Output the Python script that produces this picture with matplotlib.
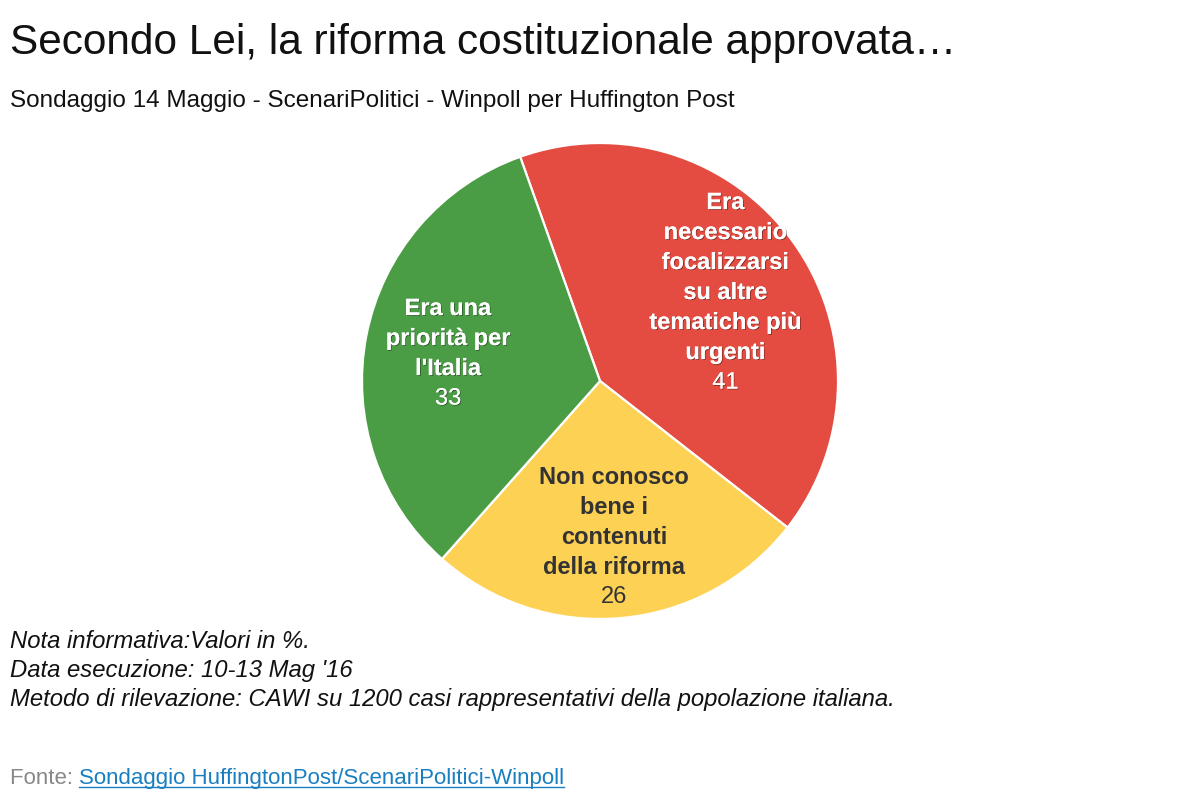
import matplotlib
matplotlib.use("Agg")
import matplotlib.pyplot as plt
import matplotlib.patheffects as pe
import numpy as np

plt.rcParams['font.family'] = ['Liberation Sans', 'DejaVu Sans']

# Data
categories = ["Era\nnecessario\nfocalizzarsi\nsu altre\ntematiche più\nurgenti",
              "Non conosco\nbene i\ncontenuti\ndella riforma",
              "Era una\npriorità per\nl'Italia"]
values = [41, 26, 33]
colors = ["#e44c41", "#fdd254", "#4a9d44"]
label_colors = ["white", "#333333", "white"]

title = "Secondo Lei, la riforma costituzionale approvata…"
subtitle = "Sondaggio 14 Maggio - ScenariPolitici - Winpoll per Huffington Post"
notes = ["Nota informativa:Valori in %.",
         "Data esecuzione: 10-13 Mag '16",
         "Metodo di rilevazione: CAWI su 1200 casi rappresentativi della popolazione italiana."]
source_label = "Fonte: "
source_link = "Sondaggio HuffingtonPost/ScenariPolitici-Winpoll"

W, H = 1200, 800
fig = plt.figure(figsize=(12, 8), dpi=100)
fig.patch.set_facecolor("white")

def fx(x): return x / W
def fy(y): return 1 - y / H

cx, cy, R = 600, 381, 238
ax = fig.add_axes([fx(cx - R), fy(cy + R), 2 * R / W, 2 * R / H])
wedges, _ = ax.pie(values, colors=colors, startangle=109.6, counterclock=False,
                   radius=1, wedgeprops=dict(edgecolor="white", linewidth=1.6))
ax.set_xlim(-1, 1)
ax.set_ylim(-1, 1)
ax.set_aspect("equal")
ax.axis("off")

line_step = 21.6  # points between lines
for w, cat, val, lc in zip(wedges, categories, values, label_colors):
    mid = np.deg2rad((w.theta1 + w.theta2) / 2)
    px, py = 0.65 * np.cos(mid), 0.65 * np.sin(mid)
    lines = cat.split("\n")
    n = len(lines) + 1
    effects = []
    if lc == "white":
        effects = [pe.withSimplePatchShadow(offset=(0.6, -0.6), shadow_rgbFace="black", alpha=0.45),
                   pe.Normal()]
    for i, ln in enumerate(lines):
        off = ((n - 1) / 2 - i) * line_step - 1.5
        ax.annotate(ln, (px, py), xytext=(0, off), textcoords="offset points",
                    ha="center", va="center", fontsize=17, fontweight="bold",
                    color=lc, path_effects=effects)
    off = ((n - 1) / 2 - (n - 1)) * line_step - 1.5
    ax.annotate(str(val), (px, py), xytext=(0, off), textcoords="offset points",
                ha="center", va="center", fontsize=17, color=lc, path_effects=effects)

fig.text(fx(10), fy(54), title, fontsize=30.5, color="#111111", ha="left", va="baseline")
fig.text(fx(10), fy(107), subtitle, fontsize=17.5, color="#111111", ha="left", va="baseline")
for i, t in enumerate(notes):
    fig.text(fx(10), fy(648 + 29 * i), t, fontsize=17.2, style="italic",
             color="#111111", ha="left", va="baseline")

t1 = fig.text(fx(10), fy(784), source_label, fontsize=16, color="#888888",
              ha="left", va="baseline")
fig.canvas.draw()
r = fig.canvas.get_renderer()
bb = t1.get_window_extent(renderer=r)
t2 = fig.text(bb.x1 / W, fy(784), source_link, fontsize=16, color="#1a7fc1",
              ha="left", va="baseline")
fig.canvas.draw()
bb2 = t2.get_window_extent(renderer=r)
uy = fy(787)
fig.add_artist(plt.Line2D([bb2.x0 / W, bb2.x1 / W], [uy, uy], color="#1a7fc1",
                          linewidth=1.0, transform=fig.transFigure))

fig.savefig("out.png", dpi=100, facecolor="white")
